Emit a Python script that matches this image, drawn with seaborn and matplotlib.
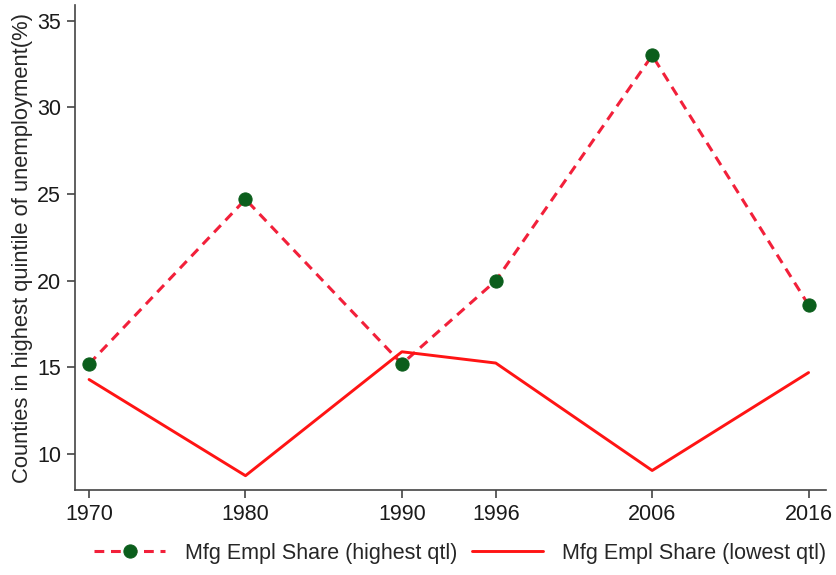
import numpy as np
import pandas as pd
import matplotlib
matplotlib.use("Agg")
import matplotlib.pyplot as plt
import seaborn as sns

years = [1970, 1980, 1990, 1996, 2006, 2016]
high_qtl = [15.2, 24.7, 15.2, 20.0, 33.0, 18.6]
low_qtl = [14.3, 8.75, 15.9, 15.25, 9.05, 14.7]
label_high = "Mfg Empl Share (highest qtl)"
label_low = "Mfg Empl Share (lowest qtl)"
ylabel = "Counties in highest quintile of unemployment(%)"


def main():
    sns.set_style("ticks")
    plt.rcParams['font.family'] = ['Liberation Sans', 'DejaVu Sans']

    df = pd.DataFrame({"year": years, "high": high_qtl, "low": low_qtl})

    fig = plt.figure(figsize=(8.37, 5.75), dpi=100)
    ax = fig.add_axes([0.0896, 0.148, 0.897, 0.843])

    sns.lineplot(data=df, x="year", y="high", ax=ax, color="#f2203a",
                 linewidth=2.2, dashes=False, label=label_high,
                 marker="o", markersize=9.5, markerfacecolor="#0b5e1c",
                 markeredgecolor="#0b5e1c")
    ax.lines[-1].set_dashes((3.2, 2.2))
    sns.lineplot(data=df, x="year", y="low", ax=ax, color="#ff1414",
                 linewidth=2.1, label=label_low)

    ax.set_xlim(1969.1, 2017.1)
    ax.set_ylim(7.93, 35.9)
    ax.set_xticks(years)
    ax.set_yticks([10, 15, 20, 25, 30, 35])
    ax.set_xlabel("")
    ax.set_ylabel(ylabel, fontsize=15.8, labelpad=3)
    ax.tick_params(labelsize=15.5, length=6, width=1.2, color="#444444",
                   labelcolor="#1a1a1a", pad=4)
    sns.despine(ax=ax)
    for s in ["left", "bottom"]:
        ax.spines[s].set_color("#444444")
        ax.spines[s].set_linewidth(1.2)

    handles, labels = ax.get_legend_handles_labels()
    ax.get_legend().remove()
    fig.legend(handles, labels, loc="center", bbox_to_anchor=(0.55, 0.038),
               ncol=2, frameon=False, fontsize=15.5, handlelength=3.3,
               handletextpad=0.9, columnspacing=0.7)

    fig.savefig("out.png", dpi=100, facecolor="white")


if __name__ == "__main__":
    main()
